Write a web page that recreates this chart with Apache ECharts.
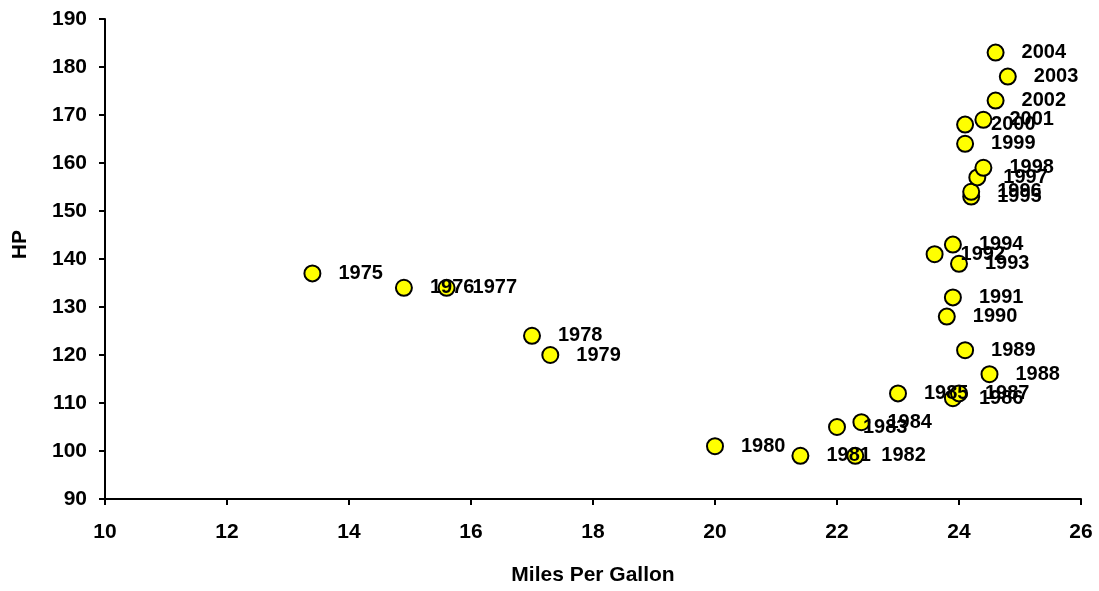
<!DOCTYPE html>
<html>
<head>
<meta charset="utf-8">
<script src="https://cdn.jsdelivr.net/npm/echarts@6/dist/echarts.min.js"></script>
<style>
  html, body { margin: 0; padding: 0; background: #fff; }
  #chart { width: 1099px; height: 591px; }
</style>
</head>
<body>
<div id="chart"></div>
<script>
// Model years, fuel economy and horsepower
const years = ['1975','1976','1977','1978','1979','1980','1981','1982','1983','1984',
               '1985','1986','1987','1988','1989','1990','1991','1992','1993','1994',
               '1995','1996','1997','1998','1999','2000','2001','2002','2003','2004'];
const mpg = [13.4, 14.9, 15.6, 17.0, 17.3, 20.0, 21.4, 22.3, 22.0, 22.4,
             23.0, 23.9, 24.0, 24.5, 24.1, 23.8, 23.9, 23.6, 24.0, 23.9,
             24.2, 24.2, 24.3, 24.4, 24.1, 24.1, 24.4, 24.6, 24.8, 24.6];
const hp = [137, 134, 134, 124, 120, 101, 99, 99, 105, 106,
            112, 111, 112, 116, 121, 128, 132, 141, 139, 143,
            153, 154, 157, 159, 164, 168, 169, 173, 178, 183];

const xTicks = { min: 10, max: 26, step: 2 };
const yTicks = { min: 90, max: 190, step: 10 };

const FONT = '"Liberation Sans", Arial, sans-serif';

const points = years.map((y, i) => ({ value: [mpg[i], hp[i]], name: y }));

const chart = echarts.init(document.getElementById('chart'), null, { renderer: 'canvas' });
chart.setOption({
  animation: false,
  backgroundColor: '#ffffff',
  grid: { left: 105, right: 18, top: 19, bottom: 92, containLabel: false },
  xAxis: {
    type: 'value',
    min: xTicks.min, max: xTicks.max, interval: xTicks.step,
    name: 'Miles Per Gallon',
    nameLocation: 'middle',
    nameGap: 66,
    nameTextStyle: { fontFamily: FONT, fontWeight: 'bold', fontSize: 21, color: '#000' },
    axisLine: { show: true, lineStyle: { color: '#000', width: 2 } },
    axisTick: { show: true, length: 6, lineStyle: { color: '#000', width: 2 } },
    axisLabel: { margin: 23, fontFamily: FONT, fontWeight: 'bold', fontSize: 21, color: '#000' },
    splitLine: { show: false }
  },
  yAxis: {
    type: 'value',
    min: yTicks.min, max: yTicks.max, interval: yTicks.step,
    axisLine: { show: true, lineStyle: { color: '#000', width: 2 } },
    axisTick: { show: true, length: 6, lineStyle: { color: '#000', width: 2 } },
    axisLabel: { margin: 18, fontFamily: FONT, fontWeight: 'bold', fontSize: 21, color: '#000' },
    splitLine: { show: false }
  },
  graphic: [{
    type: 'text',
    left: 10,
    top: 230,
    rotation: Math.PI / 2,
    style: { text: 'HP', fontFamily: FONT, fontWeight: 'bold', fontSize: 21, fill: '#000' }
  }],
  series: [{
    type: 'scatter',
    data: points,
    symbol: 'circle',
    symbolSize: 16,
    itemStyle: { color: '#ffff00', borderColor: '#000', borderWidth: 2, opacity: 1 },
    label: {
      show: true,
      position: 'right',
      distance: 17,
      formatter: p => p.name,
      fontFamily: FONT,
      fontWeight: 'bold',
      fontSize: 20,
      color: '#000'
    },
    emphasis: { disabled: true }
  }]
});
</script>
</body>
</html>
